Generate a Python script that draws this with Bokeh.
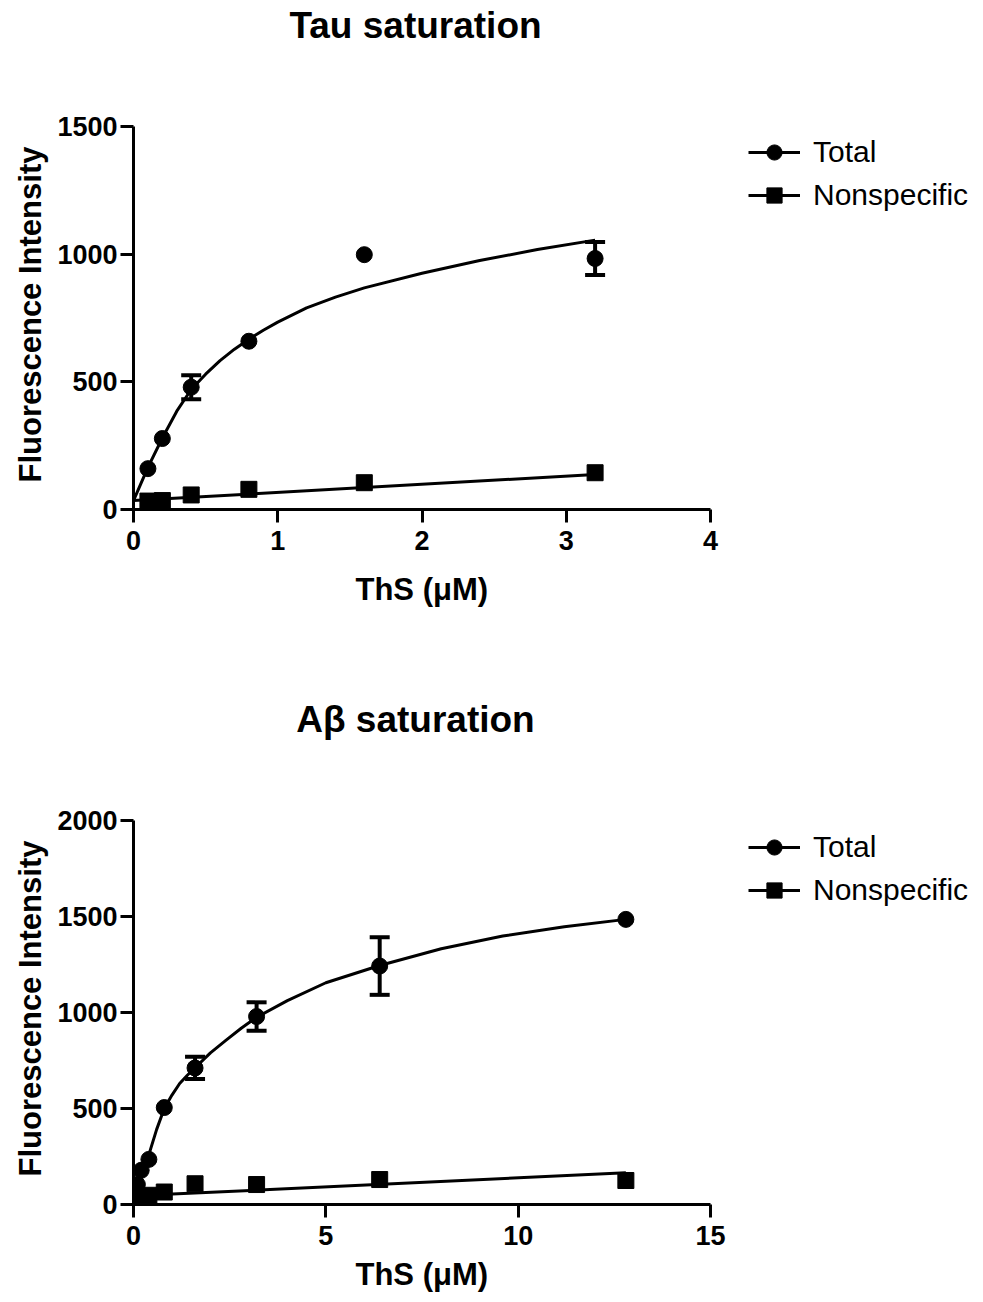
from bokeh.plotting import figure
from bokeh.models import (ColumnDataSource, Range1d, Whisker, TeeHead, Legend,
                          LegendItem, Title, Label, FixedTicker)
from bokeh.layouts import column
from bokeh.embed import file_html
from bokeh.resources import INLINE

FONT = "Liberation Sans"

# ---------------- Tau saturation ----------------
tau_x = [0.1, 0.2, 0.4, 0.8, 1.6, 3.2]
tau_total = [160, 278, 479, 659, 998, 983]
tau_total_sem = [0, 0, 47, 0, 0, 65]
tau_ns = [33, 35, 57, 79, 105, 144]
tau_fit_x = [0, 0.1, 0.2, 0.3, 0.4, 0.5, 0.6, 0.7, 0.8, 0.9, 1.0, 1.2, 1.4, 1.6,
             2.0, 2.4, 2.8, 3.2]
tau_fit_total = [35, 165, 280, 385, 470, 530, 583, 628, 667, 702, 734, 790, 832,
                 868, 925, 975, 1018, 1055]
tau_fit_ns_x = [0, 3.2]
tau_fit_ns = [35, 137]
tau_xticks = [0, 1, 2, 3, 4]
tau_yticks = [0, 500, 1000, 1500]

# ---------------- Abeta saturation ----------------
ab_x = [0.1, 0.2, 0.4, 0.8, 1.6, 3.2, 6.4, 12.8]
ab_total = [104, 178, 235, 505, 711, 979, 1242, 1485]
ab_total_sem = [0, 0, 0, 0, 58, 74, 150, 0]
ab_ns = [10, 28, 48, 65, 108, 104, 130, 125]
ab_fit_x = [0, 0.1, 0.2, 0.4, 0.6, 0.8, 1.0, 1.2, 1.4, 1.6, 2.0, 2.4, 2.8, 3.2,
            4.0, 5.0, 6.4, 8.0, 9.6, 11.2, 12.8]
ab_fit_total = [45, 100, 160, 260, 390, 500, 570, 630, 673, 712, 790, 855, 918,
                975, 1062, 1155, 1245, 1332, 1398, 1447, 1485]
ab_fit_ns_x = [0, 12.8]
ab_fit_ns = [45, 165]
ab_xticks = [0, 5, 10, 15]
ab_yticks = [0, 500, 1000, 1500, 2000]

FIG_W = 983
LEFT = 133            # frame left (axis position)
AXIS_W = 577          # pixel length of the drawn x axis


def make_panel(title, x, total, sem, ns, fx, fy, nsx, nsy, xmax, ymax,
               xticks, yticks, height, axis_top, axis_bottom,
               title_px, ylab_offset, xlab_standoff):
    frame_h = axis_bottom                    # frame spans from figure top
    frame_w = FIG_W - LEFT
    x_end = xmax * frame_w / AXIS_W
    y_end = ymax * frame_h / (axis_bottom - axis_top)
    p = figure(width=FIG_W, height=height,
               x_range=Range1d(0, x_end), y_range=Range1d(0, y_end),
               output_backend="svg", toolbar_location=None,
               min_border_left=LEFT, min_border_right=0,
               min_border_top=0, min_border_bottom=height - axis_bottom)
    p.outline_line_color = None
    p.xgrid.visible = False
    p.ygrid.visible = False
    p.background_fill_color = "white"
    p.border_fill_color = "white"

    for ax in (p.xaxis, p.yaxis):
        ax.axis_line_width = 3
        ax.axis_line_color = "black"
        ax.major_tick_line_width = 3
        ax.major_tick_line_color = "black"
        ax.major_tick_out = 13
        ax.major_tick_in = 0
        ax.minor_tick_line_color = None
        ax.major_label_text_font = FONT
        ax.major_label_text_font_style = "bold"
        ax.major_label_text_font_size = "27px"
        ax.major_label_text_color = "black"
    p.xaxis.ticker = FixedTicker(ticks=xticks)
    p.yaxis.ticker = FixedTicker(ticks=yticks)
    p.xaxis.bounds = (0, xmax)
    p.yaxis.bounds = (0, ymax)
    p.xaxis.major_label_standoff = 8
    p.yaxis.major_label_standoff = 3

    # axis titles, aligned along the drawn axis length
    p.add_layout(Title(text="ThS (μM)", align="left",
                       offset=222, standoff=xlab_standoff,
                       text_font=FONT, text_font_style="bold",
                       text_font_size="31px", text_color="black"), "below")
    p.add_layout(Title(text="Fluorescence Intensity", align="left",
                       offset=ylab_offset, standoff=14,
                       text_font=FONT, text_font_style="bold",
                       text_font_size="31px", text_color="black"), "left")

    ns_line = p.line(nsx, nsy, line_width=3, line_color="black")
    tot_line = p.line(fx, fy, line_width=3, line_color="black")

    ex = [xi for xi, s in zip(x, sem) if s > 0]
    ey = [yi for yi, s in zip(total, sem) if s > 0]
    es = [s for s in sem if s > 0]
    esrc = ColumnDataSource(dict(x=ex,
                                 upper=[a + b for a, b in zip(ey, es)],
                                 lower=[a - b for a, b in zip(ey, es)]))
    wh = Whisker(base="x", upper="upper", lower="lower", source=esrc,
                 line_width=4, line_color="black",
                 upper_head=TeeHead(size=20, line_width=4, line_color="black"),
                 lower_head=TeeHead(size=20, line_width=4, line_color="black"))
    p.add_layout(wh)

    circ = p.scatter(x, total, marker="circle", size=16, color="black")
    sq = p.scatter(x, ns, marker="square", size=16, color="black")

    legend = Legend(items=[LegendItem(label="Total", renderers=[tot_line, circ]),
                           LegendItem(label="Nonspecific", renderers=[ns_line, sq])],
                    location=(748 - LEFT, 295), glyph_width=52, glyph_height=38,
                    spacing=5, padding=0, margin=0, label_standoff=13,
                    label_text_font=FONT, label_text_font_size="30px",
                    label_text_color="black",
                    border_line_color=None, background_fill_alpha=0)
    p.add_layout(legend)

    # chart title, placed in screen pixels above the axes
    tx = (title_px[0] - LEFT) * xmax / AXIS_W
    ty = (axis_bottom - title_px[1]) * ymax / (axis_bottom - axis_top)
    p.add_layout(Label(x=tx, y=ty, text=title,
                       text_align="center", text_baseline="middle",
                       text_font=FONT, text_font_style="bold",
                       text_font_size="37px", text_color="black"))
    return p


# top figure occupies page rows 0..651, bottom figure 651..1302
p1 = make_panel("Tau saturation", tau_x, tau_total, tau_total_sem, tau_ns,
                tau_fit_x, tau_fit_total, tau_fit_ns_x, tau_fit_ns, 4, 1500,
                tau_xticks, tau_yticks, 651, 126, 509, (415, 25), 27, 35)
p2 = make_panel("Aβ saturation", ab_x, ab_total, ab_total_sem, ab_ns,
                ab_fit_x, ab_fit_total, ab_fit_ns_x, ab_fit_ns, 15, 2000,
                ab_xticks, ab_yticks, 651, 169, 553, (415, 68), 28, 14)

layout = column(p1, p2)
open("out.html", "w").write(file_html(layout, INLINE))
